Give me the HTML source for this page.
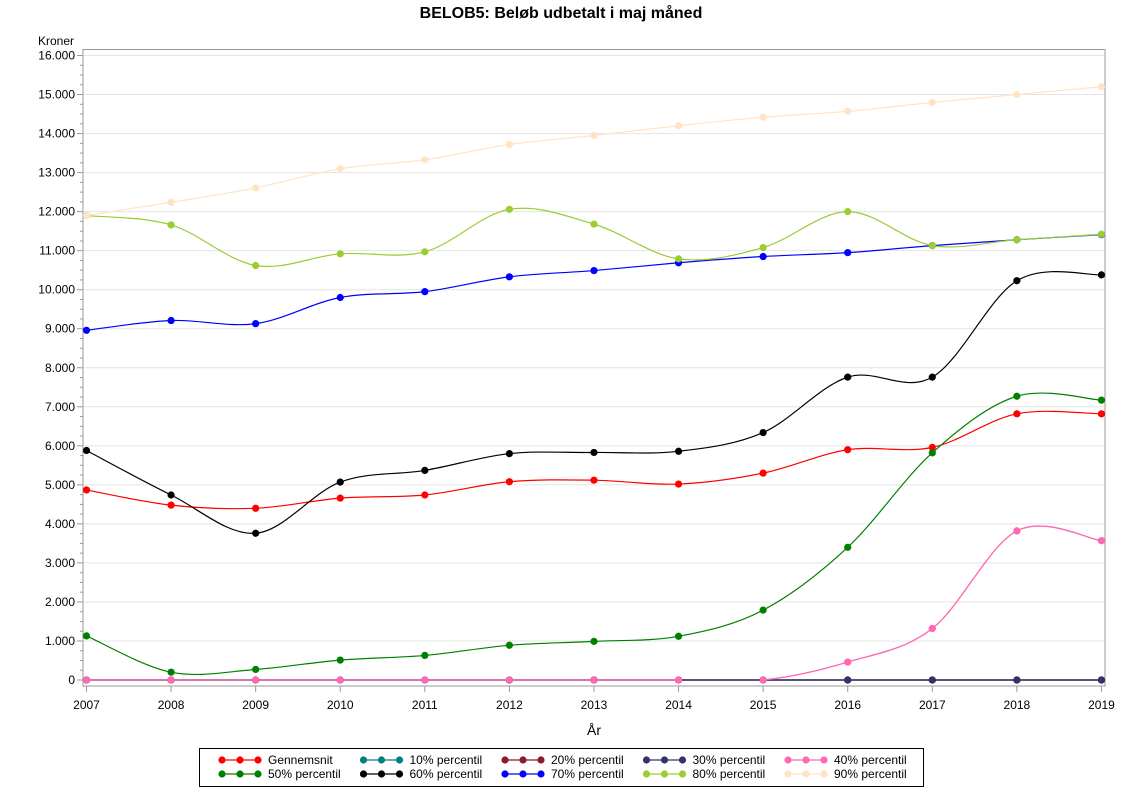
<!DOCTYPE html>
<html><head><meta charset="utf-8"><style>
body{margin:0;background:#fff;font-family:"Liberation Sans",Arial,sans-serif}
svg text{font-family:"Liberation Sans",Arial,sans-serif}
</style></head><body>
<svg id="s" width="1122" height="793" xmlns="http://www.w3.org/2000/svg">
<rect width="1122" height="793" fill="#fff"/>
<text x="561" y="18" text-anchor="middle" font-size="16" font-weight="bold">BELOB5: Beløb udbetalt i maj måned</text>
<text x="38" y="45" font-size="12">Kroner</text>
<text x="594" y="735" text-anchor="middle" font-size="14">År</text>
<g id="grid"></g>
<rect x="83" y="49.5" width="1022" height="636.5" fill="none" stroke="#999" stroke-width="1"/>
<g id="axes"></g>
<g id="series"></g>
<rect x="199.5" y="748.5" width="724" height="38" fill="#fff" stroke="#000"/>
<g id="legend" font-size="12"></g>
</svg>
<script>
const X=y=>86.5+(y-2007)*84.58, Y=v=>680-v*0.03903;
const NS="http://www.w3.org/2000/svg";
function el(p,t,a,txt){const e=document.createElementNS(NS,t);for(const k in a)e.setAttribute(k,a[k]);if(txt!==undefined)e.textContent=txt;p.appendChild(e);return e;}
const g=document.getElementById('grid'),ax=document.getElementById('axes');
for(let v=0;v<=16000;v+=250){const y=Y(v);
 if(v%1000==0){if(v>0)el(g,'line',{x1:84,x2:1104,y1:y,y2:y,stroke:'#e4e4e4'});
  el(ax,'line',{x1:77,x2:83,y1:y,y2:y,stroke:'#999'});
  el(ax,'text',{x:75,y:y+4,'text-anchor':'end','font-size':12},v==0?'0':(v/1000)+'.000');}
 else el(ax,'line',{x1:80,x2:83,y1:y,y2:y,stroke:'#999'});}
for(let yr=2007;yr<=2019;yr++){const x=X(yr);el(ax,'line',{x1:x,x2:x,y1:686,y2:692,stroke:'#999'});
 el(ax,'text',{x:x,y:709,'text-anchor':'middle','font-size':12},yr);}
const S=[
['Gennemsnit','#ff0000',[4870,4480,4400,4660,4740,5080,5120,5020,5300,5900,5960,6820,6820]],
['10% percentil','#008080',Array(13).fill(0)],
['20% percentil','#8b1a2b',Array(13).fill(0)],
['30% percentil','#33336b',Array(13).fill(0)],
['40% percentil','#ff69b4',[0,0,0,0,0,0,0,0,0,460,1320,3820,3570]],
['50% percentil','#008000',[1130,200,270,510,630,890,990,1120,1790,3400,5820,7270,7170]],
['60% percentil','#000000',[5880,4740,3760,5070,5370,5800,5830,5860,6340,7760,7760,10230,10380]],
['70% percentil','#0000ff',[8960,9210,9130,9800,9950,10330,10490,10690,10850,10950,11130,11280,11410]],
['80% percentil','#9acd32',[11900,11660,10620,10920,10970,12060,11680,10790,11080,12000,11130,11280,11420]],
['90% percentil','#ffe4c4',[11900,12240,12610,13100,13330,13720,13950,14200,14420,14570,14800,15000,15200]]];
const sg=document.getElementById('series');
function path(d){const p=d.map((v,i)=>[X(2007+i),Y(v)]);let s='M'+p[0];
 for(let i=0;i<p.length-1;i++){const a=p[Math.max(i-1,0)],b=p[i],c=p[i+1],e=p[Math.min(i+2,p.length-1)];
  let c1y=b[1]+(c[1]-a[1])/6,c2y=c[1]-(e[1]-b[1])/6;
  if(d[i]==0&&d[i+1]==0){c1y=b[1];c2y=c[1];}
  if(d[i]==0&&c1y>b[1])c1y=b[1];
  s+=` C${b[0]+(c[0]-a[0])/6},${c1y} ${c[0]-(e[0]-b[0])/6},${c2y} ${c[0]},${c[1]}`;}
 return s;}
const order=[1,2,3,4,0,5,6,7,8,9];
for(const i of order){const [n,c,d]=S[i];
 el(sg,'path',{d:path(d),fill:'none',stroke:c,'stroke-width':1.2});
 d.forEach((v,j)=>el(sg,'circle',{cx:X(2007+j),cy:Y(v),r:3.6,fill:c}));}
el(sg,'line',{x1:X(2014),x2:X(2019),y1:Y(0),y2:Y(0),stroke:'#33336b','stroke-width':1.2});
el(sg,'path',{d:path([0,0,0,0,0,0,0,0,0,460,1320,3820,3570]).replace(/^M[^C]*(C[^C]*){8}/,m=>'M'+X(2015)+','+Y(0)),fill:'none',stroke:'#ff69b4','stroke-width':1.2});
for(let j=9;j<13;j++){el(sg,'circle',{cx:X(2007+j),cy:Y(0),r:3.6,fill:'#33336b'});}
[9,10,11,12].forEach(j=>el(sg,'circle',{cx:X(2007+j),cy:Y(S[4][2][j]),r:3.6,fill:'#ff69b4'}));
el(sg,'circle',{cx:X(2014),cy:Y(0),r:3.6,fill:'#ff69b4'});el(sg,'circle',{cx:X(2015),cy:Y(0),r:3.6,fill:'#ff69b4'});
const lg=document.getElementById('legend');
S.forEach(([n,c],i)=>{const col=i%5,row=Math.floor(i/5);const x0=222+col*141.5,y=760+row*14;
 el(lg,'line',{x1:x0,x2:x0+36,y1:y,y2:y,stroke:c,'stroke-width':1.2});
 [0,18,36].forEach(o=>el(lg,'circle',{cx:x0+o,cy:y,r:3.6,fill:c}));
 el(lg,'text',{x:x0+46,y:y+4},n);});
</script>
</body></html>
